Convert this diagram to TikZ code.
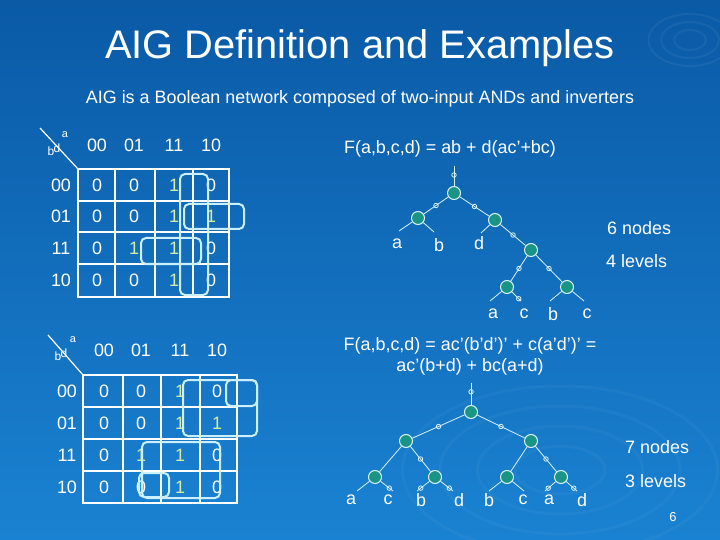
\documentclass[tikz,border=0pt]{standalone}
\usepackage{fontspec}
\setmainfont{Liberation Sans}
\begin{document}
\begin{tikzpicture}[x=1bp,y=-1bp,
  grid/.style={draw=white,line width=2.2bp},
  box/.style={draw=cyan!20!white,line width=2bp,rounded corners=5bp},
  gate/.style={circle,draw=cyan!15!white,fill=gatec,line width=1bp,minimum size=13bp,inner sep=0},
  bub/.style={circle,draw=cyan!15!white,fill=none,line width=0.8bp,minimum size=4.5bp,inner sep=0},
  wire/.style={draw=cyan!15!white,line width=0.8bp},
  txt/.style={text=white,inner sep=0,font=\fontsize{18}{20}\selectfont},
  one/.style={text=yellow!60!green!40!white,inner sep=0,font=\fontsize{18}{20}\selectfont},
  lbl/.style={text=white,inner sep=0,font=\fontsize{18}{21}\selectfont}]
\definecolor{bgtop}{HTML}{0A5AA6}
\definecolor{bgbot}{HTML}{1A82D2}
\definecolor{gatec}{HTML}{1A9585}
\shade[top color=bgtop,bottom color=bgbot] (0,0) rectangle (720,540);
\useasboundingbox (0,0) rectangle (720,540);
\foreach \r in {10,18,26}{\draw[white,opacity=0.05,line width=2bp] (690,40) circle[x radius=\r*1.6,y radius=\r];}
\foreach \r in {30,55,80,105}{\draw[white,opacity=0.035,line width=3bp] (560,470) circle[x radius=\r*1.5,y radius=\r*0.8];}

\node[text=white,font=\fontsize{40}{44}\selectfont] (title) at (360,48) {AIG Definition and Examples};
\node[text=white,font=\fontsize{18}{20}\selectfont] (sub) at (360,99) {AIG is a Boolean network composed of two-input ANDs and inverters};

% ---- K-map 1
\draw[grid] (78,169) rectangle (229,297);
\foreach \x in {115,155,193}{\draw[grid] (\x,169) -- (\x,297);}
\foreach \y in {201,232,264}{\draw[grid] (78,\y) -- (229,\y);}
\draw[white,line width=1.2bp] (40,128) -- (78,169);
\node[text=white,font=\fontsize{11}{12}\selectfont] (k1a) at (65,135) {a};
\node[text=white,font=\fontsize{12}{12}\selectfont] (k1b) at (51,151) {b};
\node[text=white,font=\fontsize{12}{12}\selectfont] (k1d) at (57,148) {d};
\foreach \c/\x in {00/97,01/134,11/174,10/211}{\node[txt] (k1c\c) at (\x,145) {\c};}
\foreach \c/\y in {00/185,01/216,11/248,10/280}{\node[txt] (k1r\c) at (61,\y) {\c};}
\foreach \y/\a/\b/\c/\d [count=\i] in {185/0/0/1/0,216/0/0/1/1,248/0/1/1/0,280/0/0/1/0}{
  \foreach \v/\x [count=\j] in {\a/97,\b/134,\c/174,\d/211}{
    \ifnum\v=1 \node[one] (k1v\i\j) at (\x,\y) {1};\else \node[txt] (k1v\i\j) at (\x,\y) {0};\fi}}
\draw[box] (180,174) rectangle (208,295);
\draw[box] (184,204) rectangle (244,229);
\draw[box] (141,238) rectangle (201,264);

% ---- K-map 2
\draw[grid] (83,375) rectangle (237,503);
\foreach \x in {123,161,200}{\draw[grid] (\x,375) -- (\x,503);}
\foreach \y in {407,439,471}{\draw[grid] (83,\y) -- (237,\y);}
\draw[white,line width=1.2bp] (48,335) -- (83,375);
\node[text=white,font=\fontsize{11}{12}\selectfont] (k2a) at (73,340) {a};
\node[text=white,font=\fontsize{12}{12}\selectfont] (k2b) at (58,356) {b};
\node[text=white,font=\fontsize{12}{12}\selectfont] (k2d) at (64,353) {d};
\foreach \c/\x in {00/104,01/141,11/180,10/217}{\node[txt] (k2c\c) at (\x,350) {\c};}
\foreach \c/\y in {00/391,01/423,11/455,10/487}{\node[txt] (k2r\c) at (67,\y) {\c};}
\foreach \y/\a/\b/\c/\d [count=\i] in {391/0/0/1/0,423/0/0/1/1,455/0/1/1/0,487/0/0/1/0}{
  \foreach \v/\x [count=\j] in {\a/104,\b/141,\c/180,\d/217}{
    \ifnum\v=1 \node[one] (k2v\i\j) at (\x,\y) {1};\else \node[txt] (k2v\i\j) at (\x,\y) {0};\fi}}
\draw[box] (183,380) rectangle (257,436);
\draw[box] (226,380) rectangle (257,406);
\draw[box] (142,442) rectangle (220,498);
\draw[box] (139,473) rectangle (169,497);

% ---- Tree 1
\node[lbl] (f1) at (450,149) {F(a,b,c,d) = ab + d(ac'+bc)};
\coordinate (t1in) at (454,166);
\node[gate] (g1) at (454,193) {};
\node[gate] (g2) at (418,218) {};
\node[gate] (g3) at (495,220) {};
\node[gate] (g4) at (531,250) {};
\node[gate] (g5) at (507,287) {};
\node[gate] (g6) at (567,287) {};
\draw[wire] (t1in) -- node[bub,pos=0.45]{} (g1);
\draw[wire] (g1) -- node[bub]{} (g2);
\draw[wire] (g1) -- node[bub]{} (g3);
\draw[wire] (g3) -- node[bub]{} (g4);
\draw[wire] (g4) -- node[bub]{} (g5);
\draw[wire] (g4) -- node[bub]{} (g6);
\coordinate (e1) at (399,231); \coordinate (e2) at (434,232);
\coordinate (e3) at (481,233);
\coordinate (e4) at (490,301); \coordinate (e5) at (521,301);
\coordinate (e6) at (550,301); \coordinate (e7) at (584,301);
\draw[wire] (g2) -- (e1); \draw[wire] (g2) -- (e2);
\draw[wire] (g3) -- (e3);
\draw[wire] (g5) -- (e4); \draw[wire] (g5) -- node[bub,pos=0.75]{} (e5);
\draw[wire] (g6) -- (e6); \draw[wire] (g6) -- (e7);
\node[lbl] (l1) at (397,244) {a};
\node[lbl] (l2) at (439,245) {b};
\node[lbl] (l3) at (479,243) {d};
\node[lbl] (l4) at (493,314) {a};
\node[lbl] (l5) at (524,314) {c};
\node[lbl] (l6) at (553,314) {b};
\node[lbl] (l7) at (587,314) {c};
\node[lbl,anchor=west] (n1) at (607,228) {6 nodes};
\node[lbl,anchor=west] (n2) at (606,261) {4 levels};

% ---- Tree 2
\node[lbl,align=center] (f2) at (470,356) {F(a,b,c,d) = ac'(b'd')' + c(a'd')' =\\ac'(b+d) + bc(a+d)};
\coordinate (t2in) at (471,383);
\node[gate] (h1) at (471,412) {};
\node[gate] (h2) at (406,441) {};
\node[gate] (h3) at (531,441) {};
\node[gate] (h4) at (375,477) {};
\node[gate] (h5) at (435,477) {};
\node[gate] (h6) at (507,477) {};
\node[gate] (h7) at (561,477) {};
\draw[wire] (t2in) -- node[bub,pos=0.4]{} (h1);
\draw[wire] (h1) -- node[bub]{} (h2);
\draw[wire] (h1) -- node[bub]{} (h3);
\draw[wire] (h2) -- (h4);
\draw[wire] (h2) -- node[bub]{} (h5);
\draw[wire] (h3) -- (h6);
\draw[wire] (h3) -- node[bub]{} (h7);
\coordinate (m1) at (357,491); \coordinate (m2) at (393,491);
\coordinate (m3) at (417,491); \coordinate (m4) at (453,491);
\coordinate (m5) at (489,491); \coordinate (m6) at (524,491);
\coordinate (m7) at (545,491); \coordinate (m8) at (577,491);
\draw[wire] (h4) -- (m1); \draw[wire] (h4) -- node[bub,pos=0.7]{} (m2);
\draw[wire] (h5) -- node[bub,pos=0.7]{} (m3); \draw[wire] (h5) -- node[bub,pos=0.7]{} (m4);
\draw[wire] (h6) -- (m5); \draw[wire] (h6) -- (m6);
\draw[wire] (h7) -- node[bub,pos=0.7]{} (m7); \draw[wire] (h7) -- node[bub,pos=0.7]{} (m8);
\foreach \t/\x [count=\i] in {a/351,c/388,b/421,d/459,b/489,c/523,a/549,d/582}{\node[lbl] (q\i) at (\x,500) {\t};}
\node[lbl,anchor=west] (n3) at (625,447) {7 nodes};
\node[lbl,anchor=west] (n4) at (625,481) {3 levels};
\node[text=white,inner sep=0,font=\fontsize{13}{14}\selectfont] (pg) at (673,517) {6};
\end{tikzpicture}
\end{document}
